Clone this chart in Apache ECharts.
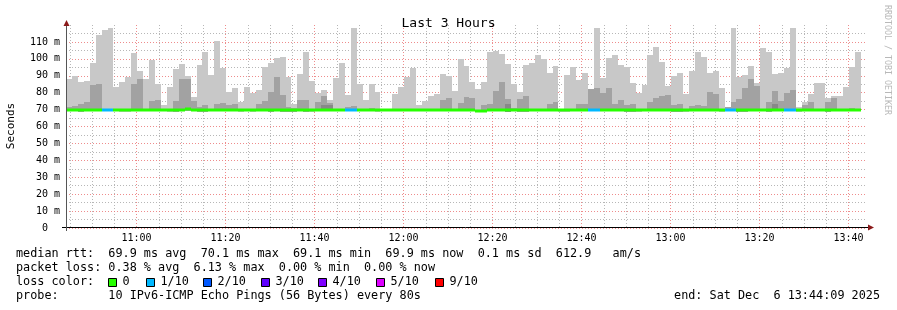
<!DOCTYPE html>
<html><head><meta charset="utf-8">
<script src="https://cdn.jsdelivr.net/npm/echarts@6/dist/echarts.min.js"></script>
<style>html,body{margin:0;padding:0;background:#fff}#c{width:897px;height:310px}</style>
</head><body><div id="c"></div>
<script>
// ---- data ----
const START = 38649;           // 10:44:09 (seconds of day)
const STEP = 80;               // one probe round every 80 s
const SPAN = 10800;            // 3 hours
const titleText = 'Last 3 Hours';
const yTitle = 'Seconds';
const majorTimes = ['11:00','11:20','11:40','12:00','12:20','12:40','13:00','13:20','13:40'];
const minorTimes = ['10:45','10:50','10:55','11:05','11:10','11:15','11:25','11:30','11:35','11:45','11:50','11:55',
  '12:05','12:10','12:15','12:25','12:30','12:35','12:45','12:50','12:55','13:05','13:10','13:15','13:25','13:30','13:35'];
const yMajor = [0,10,20,30,40,50,60,70,80,90,100,110];
const yMinor = [5,15,25,35,45,55,65,75,85,95,105,115];

// highest ping per round (ms)
const hiVals = [
 88.2,90,86.5,87,97.6,114.3,117,118,83.5,86.5,
 89.4,103.5,93,88,99.4,85.3,73,83.5,94,97,
 90,77.6,96.5,104,90.6,110.6,94.7,80.6,83,74.7,
 83.5,80,81.8,95.3,97.6,100.6,101.2,89.4,73.5,91.2,
 104,87,80,81.8,75.9,88.8,97.6,78.8,118.2,85.3,
 75.9,85.3,80.6,70.5,70.5,79.4,83.5,89.4,94.7,73,
 75.3,78.2,79.4,91.2,90,81.2,100,95.9,86.5,82.4,
 86.5,104,104.7,103,97,85.3,80.6,96.5,97.6,102.4,
 100,91.8,95.9,70.5,90.6,95.3,87.6,91.8,82.4,118.2,
 88.8,100.6,102.4,96.4,95.3,85.8,80,84.6,102.4,107,
 98.2,84,90,91.7,79.3,92.9,104,101.2,91.7,92.9,
 82.8,71.5,118,89.3,90.5,95.9,85.5,106.5,104,91.1,
 91.7,94.7,118.3,71.5,74.5,79.3,85.8,85.8,77,78,
 78,83.4,95.3,104];
// inner (second highest) ping band top (ms); null = hidden under median
const midVals = [
 71.8,72.4,73.5,74.7,84.7,85.3,null,null,null,null,
 null,85.3,88.2,null,75.3,75.9,null,null,75.3,88.2,
 88.2,75.3,71.8,73,null,73.5,74.1,73,73.5,null,
 null,null,73.5,75.3,80.6,89.4,78.8,71.8,71.2,75.9,
 75.9,null,74.7,78.2,74.1,null,null,71.8,72.4,null,
 null,71.2,null,null,null,null,null,null,null,null,
 null,null,null,75.9,77,null,74.1,77.6,77,null,
 73,73.5,81.2,86.5,76.5,71.2,76.5,78.2,null,null,
 null,73.5,74.7,null,null,null,73.5,73.5,82.4,83,
 80,82.8,73.4,75.7,72.8,73.4,null,null,74.6,77,
 78,78.6,72.8,73.4,null,72,72.8,72,80.5,79.3,
 null,71.5,74.6,76.2,82.8,88.2,84,null,74.6,81,
 75,79.9,81.7,null,72.8,74.6,null,null,74.6,77,
 null,null,71.2,null];
// darkest inner band top (ms)
const darkVals = [
 null,null,null,null,null,null,null,null,null,null,
 null,null,null,null,null,null,null,null,null,null,
 null,null,null,null,null,null,null,null,null,null,
 null,null,null,null,null,null,null,null,null,null,
 null,null,null,73,72.6,null,null,null,null,null,
 null,null,null,null,null,null,null,null,null,null,
 null,null,null,null,null,null,null,null,null,null,
 null,null,null,null,73.5,null,null,null,null,null,
 null,null,null,null,null,null,null,null,null,null,
 null,null,null,null,null,null,null,null,null,null,
 null,null,null,null,null,null,null,null,null,null,
 null,null,null,null,null,null,null,null,null,73.5,
 null,null,null,null,null,null,null,null,null,null,
 null,null,null,null];
// lowest ping per round (ms)
const loVals = [
 69.2,69.2,68.6,69.2,69.2,69.2,69.2,69.2,69.2,68.6,
 68.6,69.2,69.2,69.2,69.2,69.2,69.2,68.6,68.6,69.2,
 69.2,69.2,68.6,68.6,69.2,69.2,69.2,69.2,69.2,68.6,
 69.2,68.6,69.2,69.2,68.6,69.2,68.6,68.6,68.6,69.2,
 68.6,68.6,69.2,69.2,69.2,69.2,69.2,69.2,69.2,69.2,
 69.2,69.2,68.6,69.2,69.2,69.2,69.2,69.2,69.2,69.2,
 69.2,69.2,69.2,69.2,69.2,69.2,69.2,69.2,69.2,69.2,
 69.2,69.2,69.2,69.2,68.6,69.2,68.6,68.6,69.2,69.2,
 69.2,69.2,69.2,68.6,68.6,69.2,69.2,69.2,69.2,69.2,
 69.2,69.2,69.2,69.2,68.6,68.6,68.6,69.2,69.2,69.2,
 69.2,69.2,68.6,68.6,68.6,69.2,69.2,69.2,69.2,69.2,
 68.6,69.2,69.2,68.6,68.6,69.2,69.2,69.2,68.6,69.2,
 69.2,69.2,69.2,68.6,69.2,69.2,69.2,69.2,68.6,69.2,
 69.2,69.2,69.2,69.2];
// median rtt per round (ms)
const medVals = [
 69.9,69.9,69.9,69.9,69.9,69.9,69.9,69.9,69.9,69.9,
 69.9,69.9,69.9,69.9,69.9,69.9,69.9,69.9,69.9,69.9,
 70.6,69.9,69.9,69.9,69.9,69.9,69.9,69.9,69.9,69.9,
 69.9,69.9,69.9,69.9,69.9,69.9,69.9,69.9,69.9,69.9,
 69.9,69.9,69.9,69.9,69.9,69.9,69.9,69.9,69.9,69.9,
 69.9,69.9,69.9,69.9,69.9,69.9,69.9,69.9,69.5,69.9,
 69.9,69.9,69.9,69.9,69.9,69.9,69.9,69.9,69.9,69.1,
 69.1,69.9,69.9,69.9,69.9,69.9,69.9,69.9,69.9,69.9,
 69.9,69.9,69.9,69.9,69.9,69.9,69.9,69.9,69.9,69.9,
 69.9,69.9,69.9,69.9,69.9,69.9,69.9,69.9,69.9,69.9,
 69.9,69.9,69.9,69.9,69.9,69.9,69.9,69.9,69.9,69.9,
 69.9,69.9,69.9,69.9,69.9,69.9,69.9,69.9,69.9,69.9,
 69.9,69.9,69.9,69.9,69.9,69.9,69.9,69.9,69.9,69.9,
 69.9,69.9,69.9,69.9];
// lost pings per round (out of 10)
const lossVals = [
 0,0,0,0,0,0,1,1,0,0, 0,0,0,0,0,0,0,0,0,0,
 0,0,0,0,0,0,0,0,0,0, 0,0,0,0,0,0,0,0,0,0,
 0,0,0,0,0,0,0,1,1,0, 0,0,0,0,0,0,0,0,0,0,
 0,0,0,0,0,0,0,0,0,0, 0,0,0,0,0,0,0,0,0,0,
 0,0,0,0,0,0,0,0,1,1, 0,0,0,0,0,0,0,0,0,0,
 0,0,0,0,0,0,0,0,0,0, 0,1,1,0,0,0,0,0,0,0,
 0,1,1,0,0,0,0,0,0,0, 0,0,0,0];
const lossLabels = ['0','1/10','2/10','3/10','4/10','5/10','9/10'];
const lossColors = ['#26ff00','#00b8ff','#0059ff','#5e00ff','#7e00ff','#dd00ff','#ff0000'];
const lossIndex = [0,1,2,3,4,5,6,6,6,6,6];
const legendLines = [
 'median rtt:  69.9 ms avg  70.1 ms max  69.1 ms min  69.9 ms now  0.1 ms sd  612.9   am/s',
 'packet loss: 0.38 % avg  6.13 % max  0.00 % min  0.00 % now',
 'loss color:',
 'probe:       10 IPv6-ICMP Echo Pings (56 Bytes) every 80s'];
const endText = 'end: Sat Dec  6 13:44:09 2025';
const creditText = 'RRDTOOL / TOBI OETIKER';

// ---- build ----
const MONO = 'DejaVu Sans Mono';
const toSec = s => { const p = s.split(':'); return (+p[0]) * 3600 + (+p[1]) * 60; };
const fmtTime = v => { const h = Math.floor(v / 3600), m = Math.round((v % 3600) / 60); return h + ':' + String(m).padStart(2, '0'); };
const times = hiVals.map((_, i) => START + i * STEP);

function band(vals, color) {
  const data = [];
  vals.forEach((v, i) => { if (v != null) data.push([times[i], loVals[i], v]); });
  return {
    type: 'custom', xAxisIndex: 0, yAxisIndex: 0, z: 2, silent: true,
    encode: { x: 0, y: [1, 2] }, data,
    renderItem(params, api) {
      const t = api.value(0), lo = api.value(1), top = api.value(2);
      const a = api.coord([t, top]), b = api.coord([t + STEP, lo]);
      const x0 = Math.round(a[0]), x1 = Math.round(b[0]);
      const y0 = Math.round(a[1]), y1 = Math.round(b[1]);
      return { type: 'rect', shape: { x: x0, y: y0, width: x1 - x0, height: y1 - y0 }, style: { fill: color } };
    }
  };
}

const medSeries = {
  type: 'custom', xAxisIndex: 0, yAxisIndex: 0, z: 4, silent: true,
  encode: { x: 0, y: 1 },
  data: medVals.map((v, i) => [times[i], v, lossVals[i]]),
  renderItem(params, api) {
    const t = api.value(0), m = api.value(1), l = api.value(2);
    const a = api.coord([t, m]), b = api.coord([t + STEP, m]);
    const x0 = Math.round(a[0]), x1 = Math.round(b[0]);
    const y = Math.round(a[1]);
    return { type: 'rect', shape: { x: x0, y: y - 1.5, width: x1 - x0, height: 3 }, style: { fill: lossColors[lossIndex[l]] } };
  }
};

const RED = 'rgba(235,120,120,0.85)';
const GREY = 'rgba(175,175,175,0.9)';

const option = {
  animation: false,
  backgroundColor: '#ffffff',
  title: { text: titleText, left: 'center', top: 12, textStyle: { fontFamily: MONO, fontSize: 13, fontWeight: 'normal', color: '#000' } },
  grid: { left: 66, right: 30, top: 25, bottom: 82 },
  xAxis: [
    { type: 'value', min: START, max: START + SPAN, z: 1,
      axisLine: { show: false }, axisTick: { show: false, customValues: majorTimes.map(toSec) },
      axisLabel: { customValues: majorTimes.map(toSec), formatter: fmtTime, fontFamily: MONO, fontSize: 10, color: '#000', margin: 5 },
      splitLine: { show: true, lineStyle: { color: RED, type: [1, 2], width: 1 } } },
    { type: 'value', min: START, max: START + SPAN, z: 0,
      axisLine: { show: false }, axisTick: { show: false, customValues: minorTimes.map(toSec) },
      axisLabel: { show: false, customValues: minorTimes.map(toSec) },
      splitLine: { show: true, lineStyle: { color: GREY, type: [1, 2], width: 1 } } }
  ],
  yAxis: [
    { type: 'value', min: 0, max: 120, z: 1,
      axisLine: { show: false }, axisTick: { show: false, customValues: yMajor },
      axisLabel: { customValues: yMajor, formatter: v => v === 0 ? '0  ' : v + ' m', fontFamily: MONO, fontSize: 10, color: '#000', margin: 6 },
      splitLine: { show: true, lineStyle: { color: RED, type: [1, 2], width: 1 } } },
    { type: 'value', min: 0, max: 120, z: 0,
      axisLine: { show: false }, axisTick: { show: false, customValues: yMinor },
      axisLabel: { show: false, customValues: yMinor },
      splitLine: { show: true, lineStyle: { color: GREY, type: [1, 2], width: 1 } } }
  ],
  series: [
    band(hiVals, '#c8c8c8'),
    band(midVals, '#a2a2a2'),
    band(darkVals, '#888888'),
    medSeries
  ],
  graphic: []
};

const G = option.graphic;
// axis lines + arrows
G.push({ type: 'line', shape: { x1: 62, y1: 227.5, x2: 869, y2: 227.5 }, style: { stroke: '#000', lineWidth: 1 }, z: 10 });
G.push({ type: 'line', shape: { x1: 66.5, y1: 231, x2: 66.5, y2: 24 }, style: { stroke: '#555', lineWidth: 1 }, z: 10 });
G.push({ type: 'polygon', shape: { points: [[868, 224.5], [874, 227.5], [868, 230.5]] }, style: { fill: '#8b1a1a' }, z: 11 });
G.push({ type: 'polygon', shape: { points: [[63.5, 26], [66.5, 20], [69.5, 26]] }, style: { fill: '#8b1a1a' }, z: 11 });
// y title & credit
G.push({ type: 'text', x: 11, y: 126, rotation: Math.PI / 2, style: { text: yTitle, fontFamily: MONO, fontSize: 11, fill: '#000', align: 'center', verticalAlign: 'middle' } });
G.push({ type: 'text', x: 887, y: 60, rotation: -Math.PI / 2, style: { text: creditText, fontFamily: MONO, fontSize: 8.3, fill: '#b8b8b8', align: 'center', verticalAlign: 'middle' } });
// legend text
const lineY = [254, 268, 282, 296];
legendLines.forEach((s, i) => G.push({ type: 'text', x: 16, y: lineY[i], style: { text: s, fontFamily: MONO, fontSize: 11.8, fill: '#000', verticalAlign: 'middle' } }));
G.push({ type: 'text', x: 880, y: 296, style: { text: endText, fontFamily: MONO, fontSize: 11.8, fill: '#000', align: 'right', verticalAlign: 'middle' } });
const boxX = [108, 146, 203, 261, 318, 376, 435];
lossLabels.forEach((lab, i) => {
  G.push({ type: 'rect', shape: { x: boxX[i] + 0.5, y: 278.5, width: 8, height: 8 }, style: { fill: lossColors[i], stroke: '#000', lineWidth: 1 } });
  G.push({ type: 'text', x: boxX[i] + 14.5, y: 282, style: { text: lab, fontFamily: MONO, fontSize: 11.8, fill: '#000', verticalAlign: 'middle' } });
});

const chart = echarts.init(document.getElementById('c'), null, { renderer: 'canvas' });
chart.setOption(option);
</script></body></html>
